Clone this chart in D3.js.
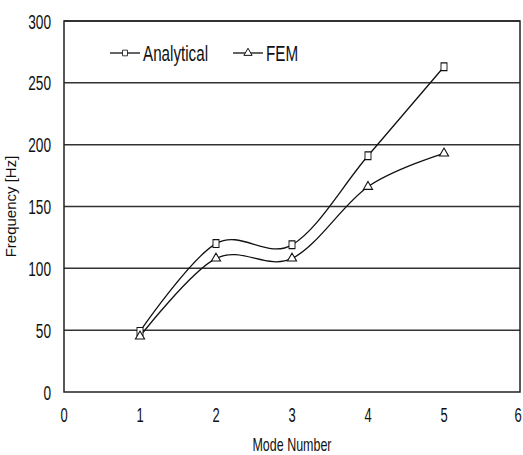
<!DOCTYPE html>
<html><head><meta charset="utf-8">
<script src="https://cdn.jsdelivr.net/npm/d3@7"></script>
<style>
body{margin:0;background:#fff;}
text{font-family:"Liberation Sans",Arial,sans-serif;fill:#111;}
</style></head>
<body><svg id="c" width="523" height="455"></svg>
<script>
const modes = [1, 2, 3, 4, 5];
const analytical = [49, 120, 119, 191, 263];
const fem = [45, 108, 108, 166, 193];
const xTicks = [0, 1, 2, 3, 4, 5, 6];
const yTicks = [0, 50, 100, 150, 200, 250, 300];
const seriesNames = ["Analytical", "FEM"];

const svg = d3.select("#c");
const L = 64, R = 520, T = 21, B = 392;
const x = d3.scaleLinear().domain([0, 6]).range([L, R]);
const y = d3.scaleLinear().domain([0, 300]).range([B, T]);

// gridlines
svg.append("g").selectAll("line").data(yTicks.filter(v => v > 0)).join("line")
  .attr("x1", L).attr("x2", R).attr("y1", d => y(d)).attr("y2", d => y(d))
  .attr("stroke", "#333").attr("stroke-width", 1.5);
// border
svg.append("rect").attr("x", L).attr("y", T).attr("width", R - L).attr("height", B - T)
  .attr("fill", "none").attr("stroke", "#222").attr("stroke-width", 1.5);

// y tick labels
svg.append("g").selectAll("text").data(yTicks).join("text")
  .attr("transform", d => `translate(51,${y(d)}) scale(0.72,1.1)`)
  .attr("text-anchor", "end").attr("dy", "0.36em")
  .style("font-size", "19px").text(d => d);
// x tick labels
svg.append("g").selectAll("text").data(xTicks).join("text")
  .attr("transform", d => `translate(${Math.min(x(d), 518)},415) scale(0.72,1.1)`)
  .attr("text-anchor", "middle").attr("dy", "0.36em")
  .style("font-size", "18px").text(d => d);

// axis titles
svg.append("text").attr("transform", `translate(${(L + R) / 2},445) scale(0.78,1.1)`)
  .attr("text-anchor", "middle").attr("dy", "0.36em")
  .style("font-size", "16px").text("Mode Number");
svg.append("text").attr("transform", `translate(11,${(T + B) / 2}) rotate(-90)`)
  .attr("text-anchor", "middle").attr("dy", "0.36em")
  .style("font-size", "15px").text("Frequency [Hz]");

const line = d3.line().x((d, i) => x(modes[i])).y(d => y(d)).curve(d3.curveCardinal.tension(0));
[analytical, fem].forEach(s => {
  svg.append("path").attr("d", line(s)).attr("fill", "none")
    .attr("stroke", "#111").attr("stroke-width", 1.3);
});

const sq = d3.symbol().type(d3.symbolSquare).size(50);
const tri = d3.symbol().type(d3.symbolTriangle).size(36);
svg.append("g").selectAll("path").data(analytical).join("path")
  .attr("transform", (d, i) => `translate(${x(modes[i])},${y(d)}) scale(0.85,1.1)`)
  .attr("d", sq()).attr("fill", "#fff").attr("stroke", "#111").attr("stroke-width", 1.1);
svg.append("g").selectAll("path").data(fem).join("path")
  .attr("transform", (d, i) => `translate(${x(modes[i])},${y(d)})`)
  .attr("d", tri()).attr("fill", "#fff").attr("stroke", "#111").attr("stroke-width", 1.1);

// legend
const leg = [{x0: 110, name: seriesNames[0], sym: sq}, {x0: 233, name: seriesNames[1], sym: tri}];
leg.forEach((l, i) => {
  const g = svg.append("g");
  g.append("line").attr("x1", l.x0).attr("x2", l.x0 + 30).attr("y1", 53).attr("y2", 53)
    .attr("stroke", "#111").attr("stroke-width", 1.3);
  g.append("path").attr("transform", `translate(${l.x0 + 15},53)` + (i === 0 ? " scale(0.7,0.8)" : " scale(0.9)"))
    .attr("d", l.sym()).attr("fill", "#fff").attr("stroke", "#111").attr("stroke-width", 1.1);
  g.append("text").attr("transform", `translate(${l.x0 + 33},53) scale(0.8,1.15)`)
    .attr("dy", "0.36em").style("font-size", "19px").text(l.name);
});
</script></body></html>
